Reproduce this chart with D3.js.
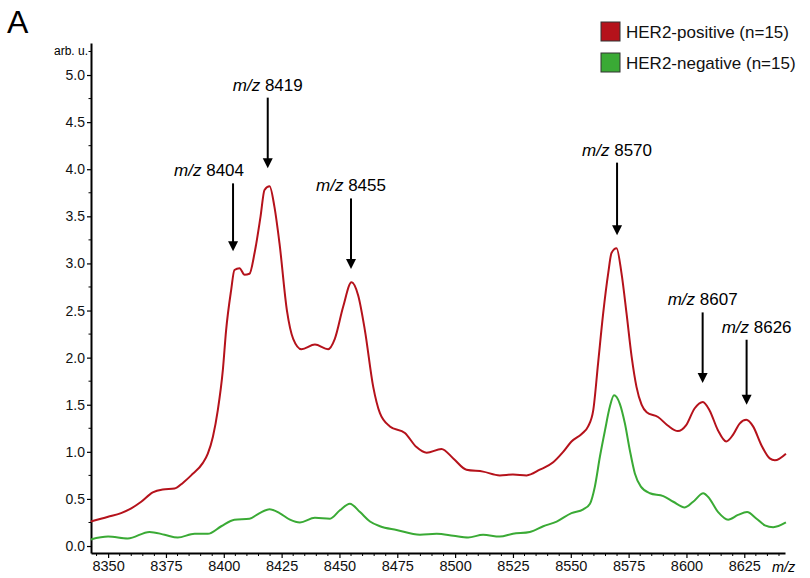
<!DOCTYPE html>
<html>
<head>
<meta charset="utf-8">
<script src="https://cdn.jsdelivr.net/npm/d3@7"></script>
<style>
html,body{margin:0;padding:0;background:#fff;}
svg{display:block;font-family:Arial,"Liberation Sans",sans-serif;}
</style>
</head>
<body>
<svg id="chart" width="810" height="578"></svg>
<script>
// ---- data ----
const seriesNames = ["HER2-positive (n=15)", "HER2-negative (n=15)"];
const mzPos = [8342.5,8350,8355.6,8360,8364.3,8369.3,8373.6,8378.7,8382.3,8385.9,8390.9,8393.1,8395.3,8397.4,8399.6,8401,8403.2,8404.6,8406.8,8409,8411.1,8413.3,8415.9,8417.6,8419.8,8421.9,8424.1,8427.3,8430,8433.6,8439.4,8445.1,8448,8451.6,8455.2,8458.1,8461,8464.6,8467.5,8471.8,8478.3,8483.3,8487.7,8494.1,8499.2,8504.9,8512.1,8519.3,8525,8530.9,8536.6,8542.4,8546.7,8550.3,8554.7,8557.5,8559.7,8561.8,8564,8566.2,8567.6,8569.8,8571.9,8574.1,8576.3,8578.4,8580.6,8582.8,8587.7,8591.9,8596.3,8599.8,8603.5,8607.1,8610,8613.6,8617.2,8620.1,8623,8625.9,8628.8,8632.4,8636,8638.2,8643];
const valPos = [0.26,0.31,0.35,0.40,0.47,0.57,0.60,0.61,0.67,0.75,0.88,0.98,1.16,1.44,1.87,2.29,2.72,2.93,2.95,2.88,2.89,3.11,3.50,3.78,3.82,3.60,3.21,2.50,2.20,2.09,2.14,2.09,2.20,2.54,2.80,2.66,2.29,1.69,1.41,1.27,1.20,1.05,0.99,1.03,0.93,0.81,0.79,0.75,0.76,0.75,0.81,0.89,1.00,1.11,1.19,1.27,1.44,1.94,2.47,2.90,3.11,3.16,2.90,2.47,2.01,1.69,1.50,1.42,1.37,1.28,1.22,1.28,1.46,1.53,1.44,1.23,1.11,1.18,1.30,1.34,1.27,1.07,0.93,0.91,0.98];
const mzNeg = [8342.5,8350,8358.5,8367.9,8374.4,8380.1,8387.4,8393.1,8398.9,8404.6,8411.1,8415.5,8419.8,8424.1,8428.6,8432.9,8439.4,8445.9,8450.2,8454.5,8458.9,8463.2,8467.5,8474.7,8484.8,8492,8499.2,8505.6,8512.1,8519.3,8525,8532.3,8538.1,8543.9,8550.3,8555.4,8558.3,8560.4,8562.6,8564.8,8566.9,8568.7,8571.2,8573.4,8575.5,8577.7,8580.3,8584.2,8590,8594.3,8599.3,8602.9,8607.3,8609.4,8613.7,8618,8622.3,8626.2,8630.3,8633.9,8637.5,8643];
const valNeg = [0.07,0.10,0.08,0.15,0.12,0.09,0.13,0.13,0.21,0.28,0.29,0.35,0.39,0.35,0.28,0.25,0.30,0.29,0.38,0.45,0.36,0.26,0.21,0.17,0.12,0.13,0.11,0.09,0.12,0.10,0.13,0.15,0.21,0.26,0.35,0.39,0.45,0.63,0.95,1.23,1.48,1.60,1.51,1.30,1.02,0.77,0.63,0.56,0.53,0.47,0.41,0.47,0.56,0.52,0.36,0.28,0.33,0.36,0.29,0.22,0.20,0.25];
const xTickValues = [8350,8375,8400,8425,8450,8475,8500,8525,8550,8575,8600,8625];
const yTickValues = [0,0.5,1,1.5,2,2.5,3,3.5,4,4.5,5];
const annMz = [8404,8419,8455,8570,8607,8626];
const annTop = [3.85,4.76,3.69,4.07,2.48,2.19];
const annTip = [3.13,4.01,2.94,3.30,1.73,1.50];

// ---- styles ----
const redColor = "#b5121b", greenColor = "#3aaa35";
const colors = [redColor, greenColor];

const svg = d3.select("#chart");
const x = d3.scaleLinear().domain([8342.6, 8642.6]).range([91, 785]);
const y = d3.scaleLinear().domain([-0.074, 5.34]).range([553, 43]);

// panel letter
svg.append("text").attr("x", 7).attr("y", 33).attr("font-size", 32).text("A");

// y axis
const yAxis = svg.append("g").attr("transform", "translate(91,0)")
  .call(d3.axisLeft(y).tickValues(yTickValues).tickFormat(d3.format(".1f")).tickSize(4).tickSizeOuter(0).tickPadding(2));
yAxis.select(".domain").attr("stroke-width", 2);
yAxis.selectAll(".tick line").attr("stroke-width", 1.2);
yAxis.selectAll(".tick text").attr("font-size", 14).attr("font-family", "Arial,'Liberation Sans',sans-serif").attr("fill", "#111");
// y minor ticks
svg.append("g").selectAll("line").data(d3.range(0.25, 5.3, 0.5)).join("line")
  .attr("x1", 88.5).attr("x2", 91).attr("y1", d => y(d)).attr("y2", d => y(d))
  .attr("stroke", "#000").attr("stroke-width", 1);

svg.append("text").attr("x", 88).attr("y", 55).attr("text-anchor", "end").attr("font-size", 12).text("arb. u.");

// x axis
const xAxis = svg.append("g").attr("transform", "translate(0,553)")
  .call(d3.axisBottom(x).tickValues(xTickValues).tickFormat(d3.format("d")).tickSize(5).tickSizeOuter(0).tickPadding(3));
xAxis.select(".domain").attr("stroke-width", 2);
xAxis.selectAll(".tick line").attr("stroke-width", 1.2);
xAxis.selectAll(".tick text").attr("font-size", 14.5).attr("font-family", "Arial,'Liberation Sans',sans-serif").attr("fill", "#111");
svg.append("g").selectAll("line").data(d3.range(8345, 8641, 5).filter(d => d % 25 !== 0)).join("line")
  .attr("x1", d => x(d)).attr("x2", d => x(d)).attr("y1", 553).attr("y2", 556)
  .attr("stroke", "#000").attr("stroke-width", 1);
svg.append("text").attr("x", 772).attr("y", 572).attr("font-size", 14.5).attr("font-style", "italic").text("m/z");

// lines
const line = d3.line().x(d => x(d[0])).y(d => y(d[1])).curve(d3.curveMonotoneX);
const series = [d3.zip(mzPos, valPos), d3.zip(mzNeg, valNeg)];
svg.append("path").datum(series[1]).attr("d", line).attr("fill", "none").attr("stroke", greenColor).attr("stroke-width", 2);
svg.append("path").datum(series[0]).attr("d", line).attr("fill", "none").attr("stroke", redColor).attr("stroke-width", 2);

// annotations
const labelDx = {8404: -24, 8626: 10};
annMz.forEach((mz, i) => {
  const ax = x(mz), yTop = y(annTop[i]), yTip = y(annTip[i]);
  svg.append("line").attr("x1", ax).attr("x2", ax).attr("y1", yTop).attr("y2", yTip - 8)
    .attr("stroke", "#000").attr("stroke-width", 2);
  svg.append("path").attr("d", `M${ax-5},${yTip-10}L${ax+5},${yTip-10}L${ax},${yTip}Z`).attr("fill", "#000");
  const t = svg.append("text").attr("x", ax + (labelDx[mz] || 0)).attr("y", yTop - 7)
    .attr("text-anchor", "middle").attr("font-size", 17);
  t.append("tspan").attr("font-style", "italic").text("m/z");
  t.append("tspan").text(" " + mz);
});

// legend
const lg = svg.append("g");
seriesNames.forEach((name, i) => {
  lg.append("rect").attr("x", 601).attr("y", 22 + i * 31).attr("width", 19).attr("height", 19)
    .attr("fill", colors[i]).attr("stroke", "#333").attr("stroke-width", 1);
  lg.append("text").attr("x", 626).attr("y", 38 + i * 31).attr("font-size", 17).attr("fill", "#111").text(name);
});
</script>
</body>
</html>
